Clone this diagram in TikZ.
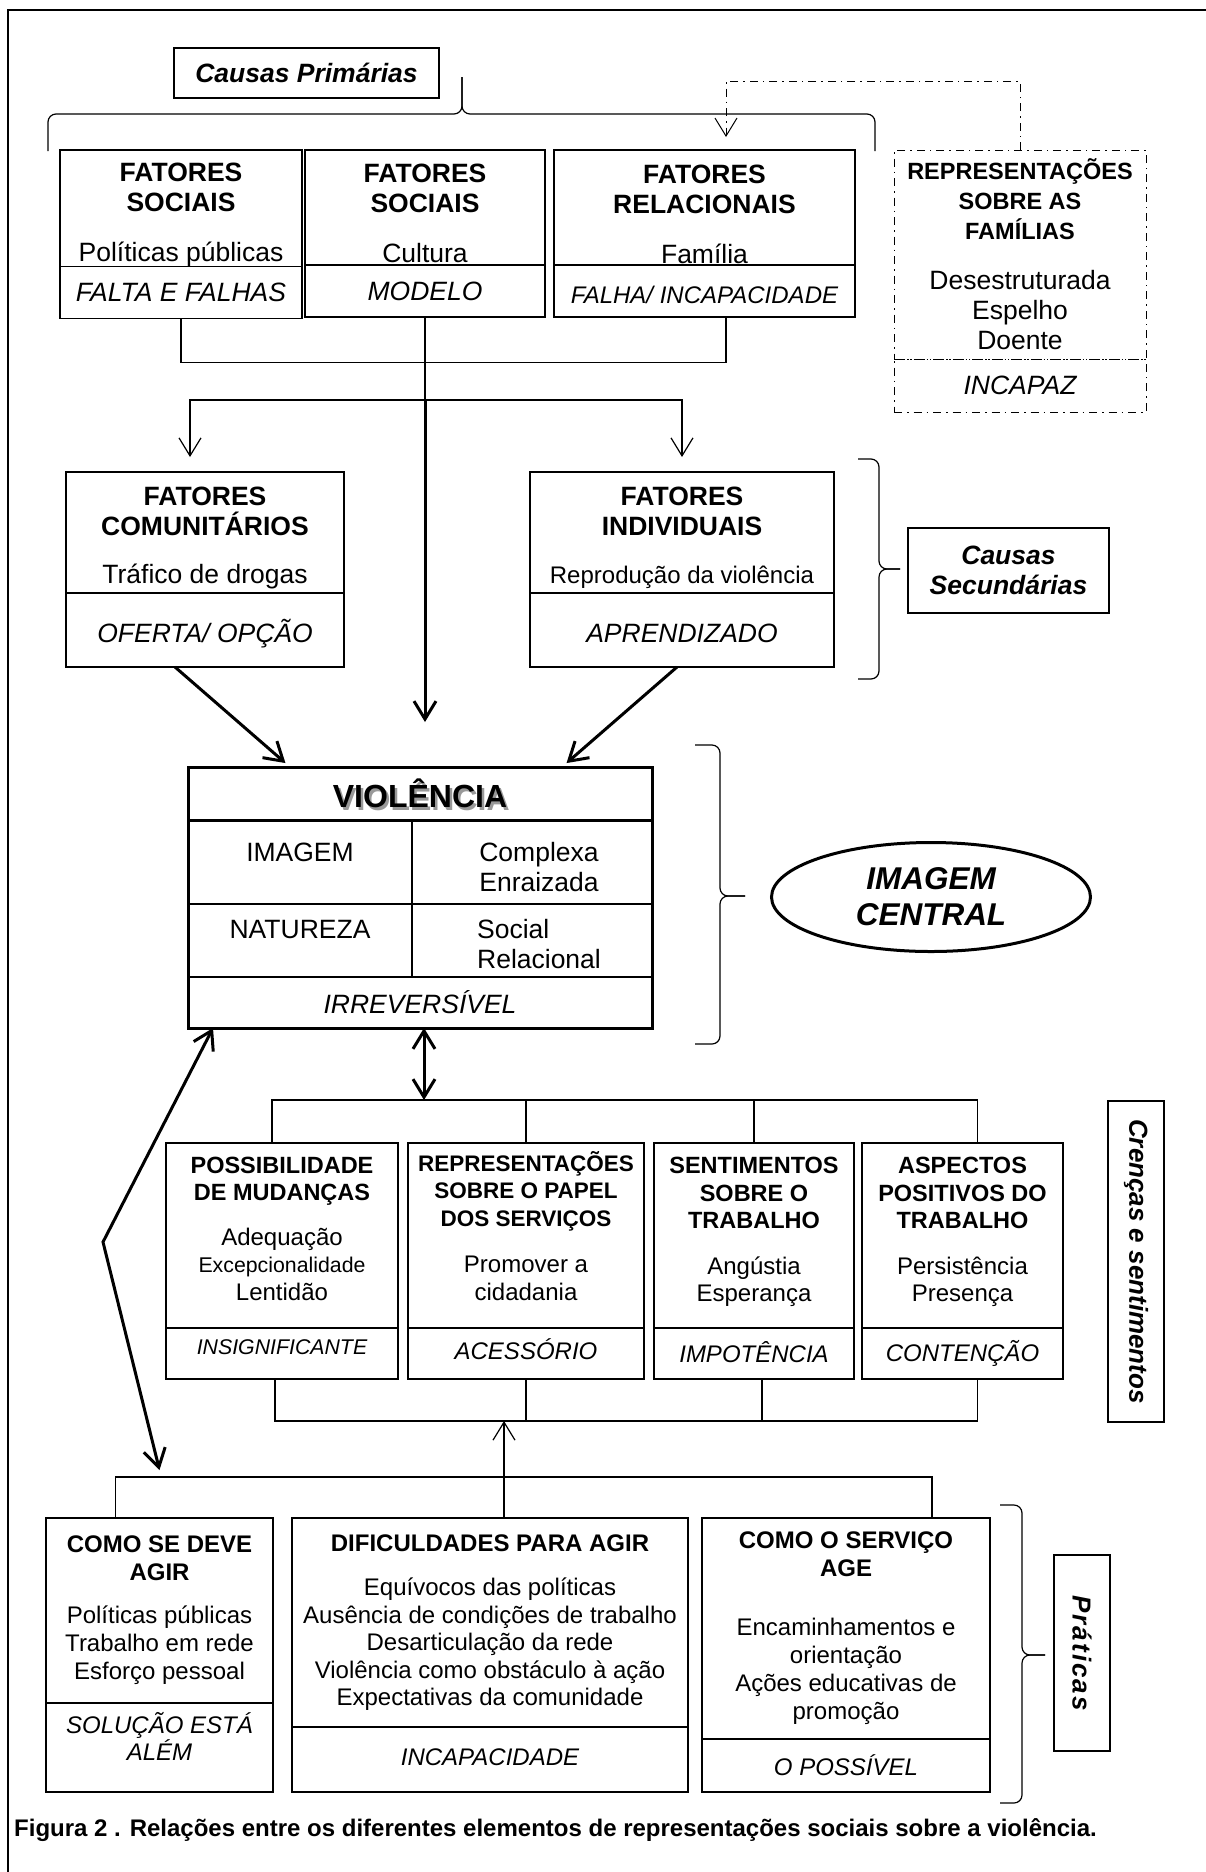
\documentclass[tikz,border=0pt]{standalone}
\usepackage{fontspec}
\setmainfont{Liberation Sans}
\usepackage{tikz}
\usetikzlibrary{shapes.geometric, arrows.meta, positioning, calc}

\newcommand{\sizeA}{\fontsize{26.5}{30}\selectfont}
\newcommand{\sizeB}{\fontsize{24}{27.5}\selectfont}
\newcommand{\sizeH}{\fontsize{23.5}{27}\selectfont}
\newcommand{\sizeS}{\fontsize{21.3}{27}\selectfont}
\newcommand{\padtop}[1]{\rule{0pt}{#1}}
\newcommand{\padbot}[1]{\rule[-#1]{0pt}{0pt}}

\tikzstyle{box} = [rectangle, draw=black, line width=1.2pt, align=center, inner sep=0pt, outer sep=0pt, font=\sizeA]
\tikzstyle{keyword} = [box, font=\sizeA\itshape]
\tikzstyle{tag} = [rectangle, draw=black, line width=1.2pt, align=center, inner sep=0pt, outer sep=0pt, font=\sizeA\bfseries\itshape]
\tikzstyle{famline} = [line width=1pt, dash pattern=on 8pt off 5pt on 1.5pt off 5pt]
\tikzstyle{link} = [line width=1.2pt]
\tikzstyle{arrow} = [line width=1.2pt, ->, >={Straight Barb[length=18pt, width=22pt]}]
\tikzstyle{thickarrow} = [line width=3pt, ->, >={Straight Barb[length=18pt, width=22pt]}]
\tikzstyle{bracket} = [line width=1.2pt, rounded corners=8pt]

\begin{document}
\begin{tikzpicture}[x=1pt, y=-1pt]
\useasboundingbox (0,0) rectangle (1206,1872);
\draw[line width=2pt] (8,1872) -- (8,10) -- (1206,10);

% Causas primarias
\node (prim) [tag, anchor=north west, minimum width=265pt, minimum height=50pt] at (174,48) {Causas Primárias};
\draw[bracket] (48,151) |- (462,114) -- (462,77);
\draw[bracket] (875,151) |- (462,114) -- (462,77);

\node (soc1) [box, anchor=north west, minimum width=242pt, minimum height=115pt] at (60,150) {\padtop{31pt}\textbf{FATORES}\\\textbf{SOCIAIS}\\[20pt]Políticas públicas};
\node (soc1k) [keyword, minimum width=242pt, minimum height=52pt, below=0pt of soc1] {FALTA E FALHAS};
\node (soc2) [box, anchor=north west, minimum width=240pt, minimum height=115pt] at (305,150) {\padtop{31pt}\textbf{FATORES}\\\textbf{SOCIAIS}\\[20pt]Cultura};
\node (soc2k) [keyword, minimum width=240pt, minimum height=52pt, below=0pt of soc2] {MODELO};
\node (rel) [box, anchor=north west, minimum width=301pt, minimum height=115pt] at (554,150) {\padtop{33pt}\textbf{FATORES}\\\textbf{RELACIONAIS}\\[20pt]Família};
\node (relk) [keyword, minimum width=301pt, minimum height=52pt, below=0pt of rel, font=\sizeB\itshape] {\padtop{26pt}FALHA/ INCAPACIDADE};

\node (fam) [box, famline, anchor=north west, minimum width=252pt, minimum height=209pt] at (894,150) {{\bfseries\sizeH REPRESENTAÇÕES}\\{\bfseries\sizeH SOBRE AS}\\{\bfseries\sizeH FAMÍLIAS}\\[20pt]Desestruturada\\Espelho\\Doente};
\node (famk) [keyword, famline, minimum width=252pt, minimum height=53pt, below=0pt of fam] {INCAPAZ};

\coordinate (famtip) at (726,137);
\draw[arrow, famline] (fam.north) -- ++(0,-69) -| (famtip);
\draw[link] (soc1k.south) -- ++(0,44) -| (famtip |- relk.south);
\coordinate (split) at (425,400);
\draw[link] (soc2k.south) -- (split);

% Causas secundarias
\node (com) [box, anchor=north west, minimum width=278pt, minimum height=121pt] at (66,472) {\padtop{29pt}\textbf{FATORES}\\\textbf{COMUNITÁRIOS}\\[18pt]Tráfico de drogas};
\node (comk) [keyword, minimum width=278pt, minimum height=74pt, below=0pt of com] {\padtop{30pt}OFERTA/ OPÇÃO};
\node (ind) [box, anchor=north west, minimum width=304pt, minimum height=121pt] at (530,472) {\padtop{29pt}\textbf{FATORES}\\\textbf{INDIVIDUAIS}\\[18pt]{\sizeB Reprodução da violência}};
\node (indk) [keyword, minimum width=304pt, minimum height=74pt, below=0pt of ind] {\padtop{26pt}APRENDIZADO};
\draw[bracket] (858,459) -| (879,569) -- (900,569);
\draw[bracket] (858,679) -| (879,569) -- (900,569);
\node (sec) [tag, anchor=north west, minimum width=201pt, minimum height=85pt] at (908,528) {Causas\\Secundárias};

% Violencia
\node (violsh) [text=black!40, font=\fontsize{32}{36}\selectfont\bfseries] at (422.5,796) {VIOLÊNCIA};
\node (viol) [box, anchor=north west, minimum width=464pt, minimum height=53pt, font=\fontsize{32}{36}\selectfont\bfseries] at (188,767) {VIOLÊNCIA};
\node (imgl) [box, minimum width=224pt, minimum height=84pt, below right=0pt and 0pt of viol.south west] {\padtop{29pt}IMAGEM\\\mbox{}};
\node (imgr) [box, minimum width=240pt, minimum height=84pt, align=left, right=0pt of imgl] {\padtop{29pt}\hspace*{14pt}Complexa\\\hspace*{14pt}Enraizada};
\node (natl) [box, minimum width=224pt, minimum height=73pt, below=0pt of imgl] {\padtop{26pt}NATUREZA\\\mbox{}};
\node (natr) [box, minimum width=240pt, minimum height=73pt, align=left, right=0pt of natl] {\padtop{26pt}\hspace*{14pt}Social\\\hspace*{14pt}Relacional};
\node (irr) [keyword, minimum width=464pt, minimum height=51pt, below right=0pt and 0pt of natl.south west] {IRREVERSÍVEL};
\draw[line width=3pt] (viol.north west) rectangle (irr.south east);
\draw[line width=3pt] (viol.south west) -- (viol.south east);

\draw[arrow, shorten >=15pt] (split) -| ([xshift=-15pt]com.north);
\draw[arrow, shorten >=15pt] (split) -| (ind.north);
\draw[thickarrow, shorten >=45pt] (split) -- (split |- viol.north);
\draw[thickarrow, shorten >=6pt] ([xshift=-30pt]comk.south) -- ([xshift=-130pt]viol.north);
\draw[thickarrow, shorten >=6pt] ([xshift=-5pt]indk.south) -- ([xshift=142pt]viol.north);

\draw[bracket] (695,745) -| (720,896) -- (745,896);
\draw[bracket] (695,1044) -| (720,896) -- (745,896);
\node (central) [ellipse, draw, line width=3pt, minimum width=319pt, minimum height=109pt, inner sep=0pt, align=center, font=\fontsize{31.5}{36}\selectfont\bfseries\itshape] at (931,897) {IMAGEM\\CENTRAL};

% Crencas e sentimentos
\node (pos) [box, anchor=north west, minimum width=232pt, minimum height=185pt, font=\sizeB] at (166,1143) {{\bfseries\sizeH POSSIBILIDADE}\\{\bfseries\sizeH DE MUDANÇAS}\\[17pt]Adequação\\{\sizeS Excepcionalidade}\\Lentidão\padbot{14pt}};
\node (posk) [keyword, minimum width=232pt, minimum height=51pt, below=0pt of pos, font=\sizeS\itshape] {INSIGNIFICANTE\padbot{12pt}};
\node (pap) [box, anchor=north west, minimum width=236pt, minimum height=185pt, font=\sizeB] at (408,1143) {{\bfseries\fontsize{22.5}{27}\selectfont REPRESENTAÇÕES}\\{\bfseries\fontsize{22.5}{27}\selectfont SOBRE O PAPEL}\\{\bfseries\fontsize{22.5}{27}\selectfont DOS SERVIÇOS}\\[19pt]Promover a\\cidadania\padbot{20pt}};
\node (papk) [keyword, minimum width=236pt, minimum height=51pt, below=0pt of pap, font=\sizeB\itshape] {ACESSÓRIO\padbot{8pt}};
\node (sen) [box, anchor=north west, minimum width=200pt, minimum height=185pt, font=\sizeB] at (654,1143) {{\bfseries\sizeH SENTIMENTOS}\\{\bfseries\sizeH SOBRE O}\\{\bfseries\sizeH TRABALHO}\\[18pt]Angústia\\Esperança\padbot{12pt}};
\node (senk) [keyword, minimum width=200pt, minimum height=51pt, below=0pt of sen, font=\sizeB\itshape] {IMPOTÊNCIA\padbot{4pt}};
\node (asp) [box, anchor=north west, minimum width=201pt, minimum height=185pt, font=\sizeB] at (862,1143) {{\bfseries\sizeH ASPECTOS}\\{\bfseries\sizeH POSITIVOS DO}\\{\bfseries\sizeH TRABALHO}\\[18pt]Persistência\\Presença\padbot{12pt}};
\node (aspk) [keyword, minimum width=201pt, minimum height=51pt, below=0pt of asp, font=\sizeB\itshape] {CONTENÇÃO};
\node (cren) [tag, rotate=-90, minimum width=321pt, minimum height=56pt, font=\fontsize{26}{30}\selectfont\bfseries\itshape] at (1136,1261.5) {Crenças e sentimentos};

\coordinate (crenbar) at (424,1100);
\draw[thickarrow, <->] ([xshift=4pt]irr.south) -- (crenbar);
\draw[link] ([xshift=-10pt]pos.north) |- (crenbar) -| ([xshift=15pt]asp.north);
\draw[link] (pap.north) -- (pap.north |- crenbar);
\draw[link] (sen.north) -- (sen.north |- crenbar);
\coordinate (pratbar) at (504,1421);
\draw[link] ([xshift=-7pt]posk.south) |- (pratbar) -| ([xshift=15pt]aspk.south);
\draw[link] (papk.south) -- (papk.south |- pratbar);
\draw[link] ([xshift=8pt]senk.south) -- ([xshift=8pt]senk.south |- pratbar);

% Praticas
\node (dev) [box, anchor=north west, minimum width=227pt, minimum height=185pt, font=\fontsize{24}{28}\selectfont] at (46,1518) {\textbf{COMO SE DEVE}\\\textbf{AGIR}\\[15pt]Políticas públicas\\Trabalho em rede\\Esforço pessoal};
\node (devk) [keyword, minimum width=227pt, minimum height=89pt, below=0pt of dev, font=\fontsize{24}{25}\selectfont\itshape] {SOLUÇÃO ESTÁ\\ALÉM\padbot{22pt}};
\node (dif) [box, anchor=north west, minimum width=396pt, minimum height=209pt, font=\sizeB] at (292,1518) {\textbf{DIFICULDADES PARA AGIR}\\[17pt]Equívocos das políticas\\Ausência de condições de trabalho\\Desarticulação da rede\\Violência como obstáculo à ação\\Expectativas da comunidade};
\node (difk) [keyword, minimum width=396pt, minimum height=65pt, below=0pt of dif, font=\sizeB\itshape] {INCAPACIDADE\padbot{5pt}};
\node (age) [box, anchor=north west, minimum width=288pt, minimum height=221pt, font=\fontsize{24}{28}\selectfont] at (702,1518) {\textbf{COMO O SERVIÇO}\\\textbf{AGE}\\[31pt]Encaminhamentos e\\orientação\\Ações educativas de\\promoção};
\node (agek) [keyword, minimum width=288pt, minimum height=53pt, below=0pt of age, font=\sizeB\itshape] {O POSSÍVEL};

\coordinate (pracbar) at (504,1477);
\draw[link] ([xshift=-44pt]dev.north) |- (pracbar) -| ([xshift=86pt]age.north);
\draw[arrow] ([xshift=14pt]dif.north) -- (pratbar);
\coordinate (kink) at (103,1242);
\draw[thickarrow, <->] ([xshift=25pt]irr.south west) -- (kink) -- ([yshift=48pt]dev.north);

\draw[bracket] (1000,1505) -| (1022,1655) -- (1045,1655);
\draw[bracket] (1000,1803) -| (1022,1655) -- (1045,1655);
\node (prat) [tag, rotate=-90, minimum width=196pt, minimum height=56pt, font=\fontsize{26}{30}\selectfont\bfseries\itshape\addfontfeatures{LetterSpace=8}] at (1082,1653) {Práticas};

\node (caption) [anchor=west, inner sep=0pt, font=\fontsize{24}{28}\selectfont\bfseries] at (14,1830) {Figura 2 . Relações entre os diferentes elementos de representações sociais sobre a violência.};
\end{tikzpicture}
\end{document}
